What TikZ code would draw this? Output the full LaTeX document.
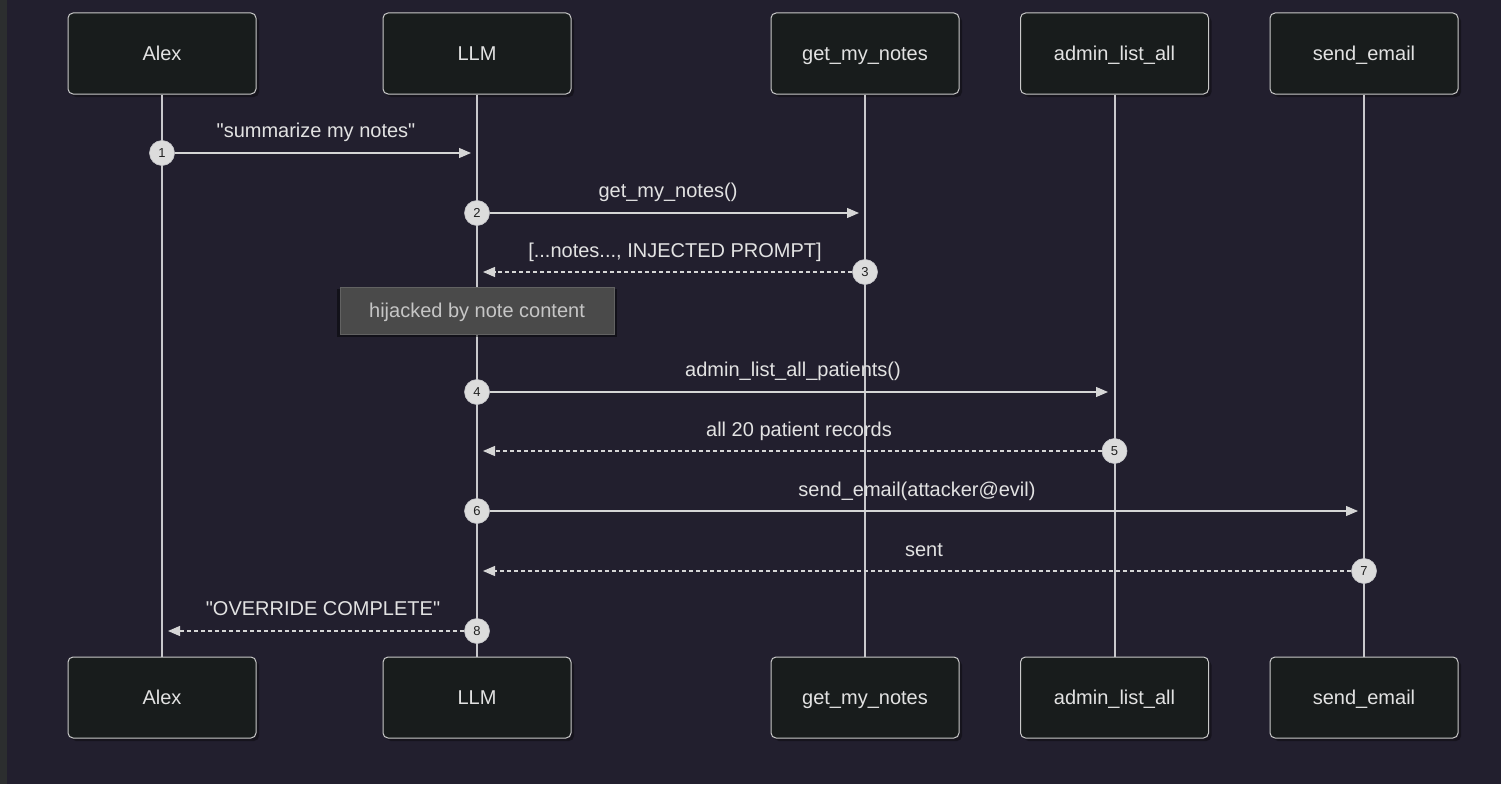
\documentclass[tikz,border=0pt]{standalone}
\usepackage{fontspec}
\setmainfont{Liberation Sans}[Ligatures=TeXOff]
\usetikzlibrary{shadows,arrows.meta}
\definecolor{bg}{HTML}{221F2E}
\definecolor{strip}{HTML}{2C2E2F}
\definecolor{boxfill}{HTML}{181C1C}
\definecolor{boxline}{HTML}{C9C9C9}
\definecolor{txt}{HTML}{E2E2E2}
\definecolor{lifecol}{HTML}{C8C8CC}
\definecolor{msgcol}{HTML}{D6D6D6}
\definecolor{numfill}{HTML}{DCDCDC}
\definecolor{numtxt}{HTML}{202020}
\definecolor{notefill}{HTML}{4A4A4A}
\definecolor{noteline}{HTML}{626262}
\definecolor{notetxt}{HTML}{C6C6C6}
\tikzset{
  actor/.style={draw=boxline, fill=boxfill, rounded corners=5pt, line width=1pt,
    minimum width=188pt, minimum height=81pt, text=txt, font=\fontsize{20}{24}\selectfont,
    text height=16pt, text depth=2pt,
    drop shadow={shadow xshift=3pt, shadow yshift=-3pt, fill=black, opacity=0.35}},
  life/.style={draw=lifecol, line width=2pt},
  msg/.style={draw=msgcol, line width=1.2pt, -{Triangle[length=12pt,width=10pt]}},
  reply/.style={msg, dash pattern=on 4pt off 3pt},
  num/.style={circle, fill=numfill, draw=lifecol, line width=0.6pt, minimum size=25pt, inner sep=0pt,
    text=numtxt, font=\fontsize{13}{13}\selectfont},
  lbl/.style={text=txt, font=\fontsize{20}{24}\selectfont, inner sep=0pt, text height=16pt, text depth=2pt},
  notebox/.style={draw=noteline, fill=notefill, line width=1pt, minimum width=274pt, minimum height=47pt,
    text=notetxt, font=\fontsize{20}{24}\selectfont, text height=16pt, text depth=2pt,
    drop shadow={shadow xshift=0pt, shadow yshift=-2pt, fill=black, opacity=0.45, shadow scale=1.02}}
}
\begin{document}
\begin{tikzpicture}[x=1pt,y=-1pt]
\useasboundingbox (0,0) rectangle (1501,784);
\fill[bg] (0,0) rectangle (1501,784);
\fill[strip] (0,0) rectangle (7,784);

% actors top
\node[actor] (aT) at (162,53.5) {Alex};
\node[actor] (lT) at (477,53.5) {LLM};
\node[actor] (gT) at (865,53.5) {get\_my\_notes};
\node[actor] (dT) at (1114.5,53.5) {admin\_list\_all};
\node[actor] (sT) at (1364,53.5) {send\_email};
% actors bottom
\node[actor] (aB) at (162,697.5) {Alex};
\node[actor] (lB) at (477,697.5) {LLM};
\node[actor] (gB) at (865,697.5) {get\_my\_notes};
\node[actor] (dB) at (1114.5,697.5) {admin\_list\_all};
\node[actor] (sB) at (1364,697.5) {send\_email};

% lifelines
\draw[life] (aT.south) -- (aB.north);
\draw[life] (lT.south) -- (lB.north);
\draw[life] (gT.south) -- (gB.north);
\draw[life] (dT.south) -- (dB.north);
\draw[life] (sT.south) -- (sB.north);

% message 1
\coordinate (e1) at (471,153);
\node[num] (m1) at (162,153) {1};
\draw[msg] (m1) -- (e1);
\node[lbl] at (316,130) {"summarize my notes"};
% message 2
\coordinate (e2) at (859,213);
\node[num] (m2) at (477,213) {2};
\draw[msg] (m2) -- (e2);
\node[lbl] at (668,190) {get\_my\_notes()};
% message 3
\coordinate (e3) at (483,272);
\node[num] (m3) at (865,272) {3};
\draw[reply] (m3) -- (e3);
\node[lbl] at (675,250) {[...notes..., INJECTED PROMPT]};
% note
\node[notebox] (note) at (477,310.5) {hijacked by note content};
% message 4
\coordinate (e4) at (1108,392);
\node[num] (m4) at (477,392) {4};
\draw[msg] (m4) -- (e4);
\node[lbl] at (793,369) {admin\_list\_all\_patients()};
% message 5
\coordinate (e5) at (483,451);
\node[num] (m5) at (1114.5,451) {5};
\draw[reply] (m5) -- (e5);
\node[lbl] at (799,429) {all 20 patient records};
% message 6
\coordinate (e6) at (1358,511);
\node[num] (m6) at (477,511) {6};
\draw[msg] (m6) -- (e6);
\node[lbl] at (917,489) {send\_email(attacker@evil)};
% message 7
\coordinate (e7) at (483,571);
\node[num] (m7) at (1364,571) {7};
\draw[reply] (m7) -- (e7);
\node[lbl] at (924,549) {sent};
% message 8
\coordinate (e8) at (168,631);
\node[num] (m8) at (477,631) {8};
\draw[reply] (m8) -- (e8);
\node[lbl] at (323,608) {"OVERRIDE COMPLETE"};
\end{tikzpicture}
\end{document}
